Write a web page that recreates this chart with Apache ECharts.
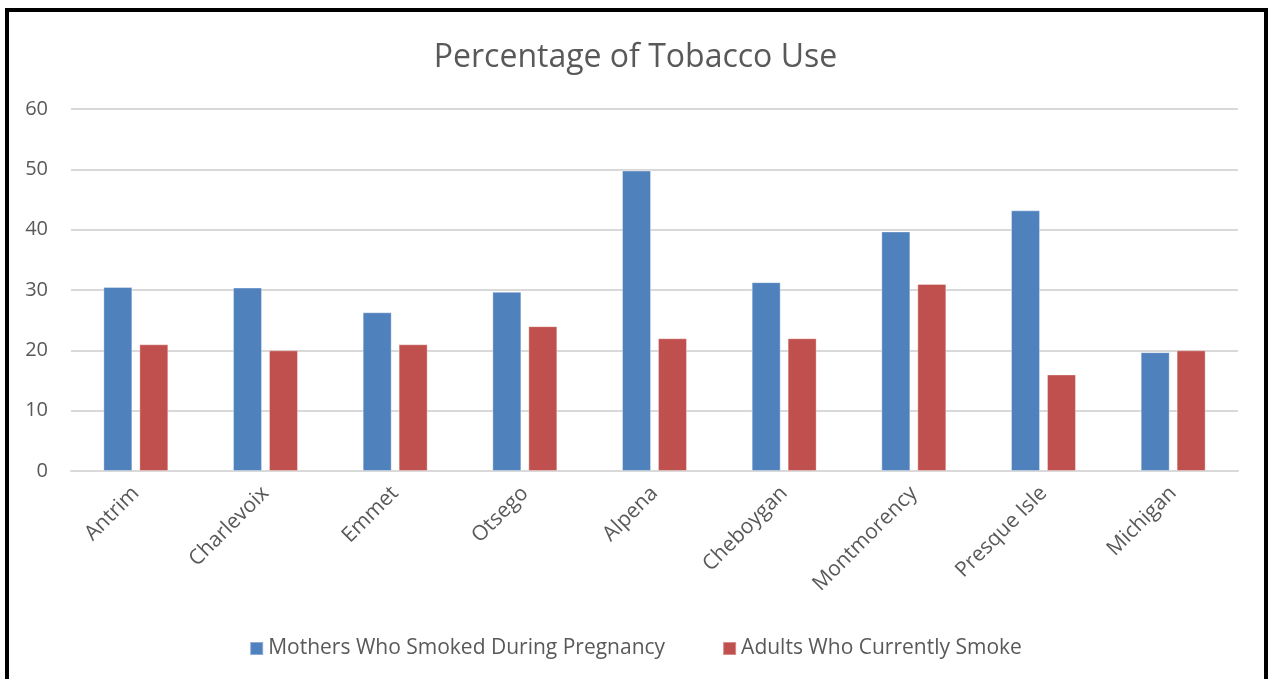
<!DOCTYPE html>
<html>
<head>
<meta charset="utf-8">
<title>Percentage of Tobacco Use</title>
<script src="https://cdn.jsdelivr.net/npm/echarts@6/dist/echarts.min.js"></script>
<style>
  html, body { margin: 0; padding: 0; background: #fff; }
  #chart { width: 1271px; height: 679px; }
</style>
</head>
<body>
<div id="chart"></div>
<script>
// County names along the x axis
const counties = ['Antrim', 'Charlevoix', 'Emmet', 'Otsego', 'Alpena', 'Cheboygan', 'Montmorency', 'Presque Isle', 'Michigan'];
// Percentages per county
const mothersSmokedPregnancy = [30.5, 30.4, 26.3, 29.7, 49.8, 31.3, 39.7, 43.2, 19.7];
const adultsCurrentlySmoke = [21, 20, 21, 24, 22, 22, 31, 16, 20];
const seriesNames = ['Mothers Who Smoked During Pregnancy', 'Adults Who Currently Smoke'];

const textColor = '#595959';
const gridColor = '#D9D9D9';
const fontFamily = '"Open Sans", "Liberation Sans", sans-serif';

const chart = echarts.init(document.getElementById('chart'), null, { renderer: 'canvas' });

chart.setOption({
  backgroundColor: '#fff',
  animation: false,
  textStyle: { fontFamily: fontFamily },
  graphic: [{
    type: 'rect',
    shape: { x: 7, y: 10, width: 1259, height: 700 },
    style: { fill: 'none', stroke: '#000', lineWidth: 4 },
    silent: true
  }],
  title: {
    text: 'Percentage of Tobacco Use',
    left: 'center',
    top: 37,
    textStyle: { color: textColor, fontSize: 32, fontWeight: 'normal', fontFamily: fontFamily }
  },
  legend: {
    bottom: 15,
    left: 'center',
    itemWidth: 13,
    itemHeight: 13,
    itemGap: 57,
    icon: 'rect',
    textStyle: { color: textColor, fontSize: 21, fontFamily: fontFamily },
    data: seriesNames
  },
  grid: { left: 71, right: 33, top: 109, bottom: 208, containLabel: false },
  xAxis: {
    type: 'category',
    data: counties,
    axisLine: { lineStyle: { color: gridColor, width: 2 } },
    axisTick: { show: false },
    axisLabel: { rotate: 45, color: textColor, fontSize: 21, margin: 19, fontFamily: fontFamily }
  },
  yAxis: {
    type: 'value',
    min: 0,
    max: 60,
    interval: 10,
    axisLine: { show: false },
    axisTick: { show: false },
    axisLabel: { color: textColor, fontSize: 20, margin: 23, fontFamily: fontFamily },
    splitLine: { lineStyle: { color: gridColor, width: 2 } }
  },
  series: [
    {
      name: seriesNames[0],
      type: 'bar',
      data: mothersSmokedPregnancy,
      barWidth: 29,
      barGap: '24%',
      itemStyle: { color: '#4F81BD', borderColor: 'rgba(255,255,255,0.35)', borderWidth: 1 }
    },
    {
      name: seriesNames[1],
      type: 'bar',
      data: adultsCurrentlySmoke,
      barWidth: 29,
      barGap: '24%',
      itemStyle: { color: '#C0504D', borderColor: 'rgba(255,255,255,0.35)', borderWidth: 1 }
    }
  ]
});
</script>
</body>
</html>
